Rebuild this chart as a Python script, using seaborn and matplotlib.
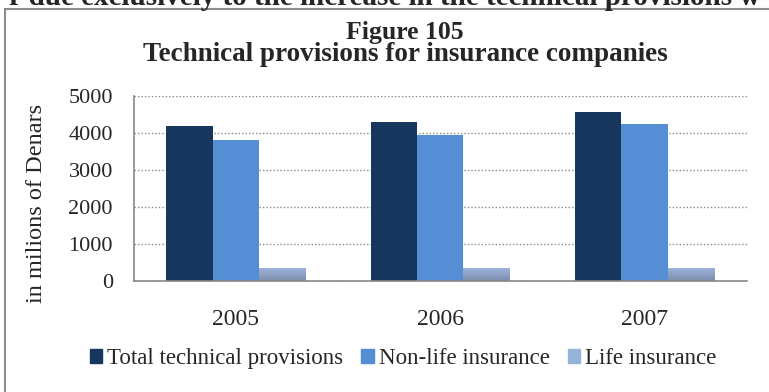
import matplotlib.pyplot as plt
import seaborn as sns
import pandas as pd
import numpy as np
from matplotlib.patches import Rectangle
from matplotlib.colors import LinearSegmentedColormap

years = ['2005', '2006', '2007']
series = ['Total technical provisions', 'Non-life insurance', 'Life insurance']
total = [4200, 4290, 4580]
nonlife = [3810, 3960, 4240]
life = [350, 350, 350]
colors = ['#17375E', '#558ED5', '#95B3D7']

df = pd.DataFrame({
    'year': np.tile(years, 3),
    'series': np.repeat(series, 3),
    'value': total + nonlife + life,
})

sns.set_style('white')
plt.rcParams['font.family'] = ['Liberation Serif', 'DejaVu Serif']

fig = plt.figure(figsize=(7.69, 3.92), dpi=100)
ax = fig.add_axes([0.174, 0.283, 0.797, 0.472])

sns.barplot(data=df, x='year', y='value', hue='series', hue_order=series,
            palette=colors, width=0.68, saturation=1, linewidth=0,
            ax=ax, legend=False)

# gradient on life insurance bars
grad = LinearSegmentedColormap.from_list('g', ['#7D8DAB', '#9DB4DD'])
for p in ax.patches[-3:]:
    x0, y0 = p.get_x(), p.get_y()
    w, h = p.get_width(), p.get_height()
    ax.imshow(np.linspace(0, 1, 50).reshape(-1, 1), cmap=grad, origin='lower',
              extent=[x0, x0 + w, y0, y0 + h], aspect='auto', zorder=p.get_zorder() + 0.1)
    p.set_alpha(0)

ax.set_ylim(0, 5000)
ax.set_xlim(-0.5, 2.5)
ax.set_yticks([0, 1000, 2000, 3000, 4000, 5000])
ax.tick_params(axis='y', labelsize=16, length=5, color='#888888', pad=10)
ax.set_xticks([0, 1, 2])
ax.tick_params(axis='x', labelsize=17, length=0, pad=20)
ax.set_xticks([-0.5, 0.5, 1.5, 2.5], minor=True)
ax.tick_params(axis='x', which='minor', length=6, color='#888888', direction='out')
ax.set_xlabel('')
ax.set_ylabel('in milions of Denars', fontsize=17.5)
ax.yaxis.set_label_coords(-0.142, 0.42)
ax.grid(axis='y', linestyle=(0, (1, 1.5)), color='#888888', linewidth=1)
ax.set_axisbelow(True)
for s in ['top', 'right']:
    ax.spines[s].set_visible(False)
for s in ['left', 'bottom']:
    ax.spines[s].set_color('#888888')
    ax.spines[s].set_linewidth(1.2)

fig.text(0.526, 0.9, 'Figure 105', ha='center', va='baseline',
         fontsize=18.5, fontweight='bold')
fig.text(0.527, 0.844, 'Technical provisions for insurance companies', ha='center',
         va='baseline', fontsize=19.5, fontweight='bold')

# cut-off text line from the page above the figure box
fig.text(0.5, 0.987, 'r due exclusively to the increase in the technical provisions w',
         ha='center', va='baseline', fontsize=21, fontweight='bold')

# frame around the chart
fig.patches.append(Rectangle((0.007, -0.05), 1.1, 1.028, transform=fig.transFigure,
                             fill=False, edgecolor='#8c8c8c', linewidth=1.5))

handles = [Rectangle((0, 0), 1, 1, color=c) for c in colors]
fig.legend(handles, series, loc='center', bbox_to_anchor=(0.524, 0.085), ncol=3,
           frameon=False, fontsize=16.5, handlelength=0.55, handleheight=0.55,
           handletextpad=0.2, columnspacing=0.8)

fig.savefig('out.png', dpi=100)
